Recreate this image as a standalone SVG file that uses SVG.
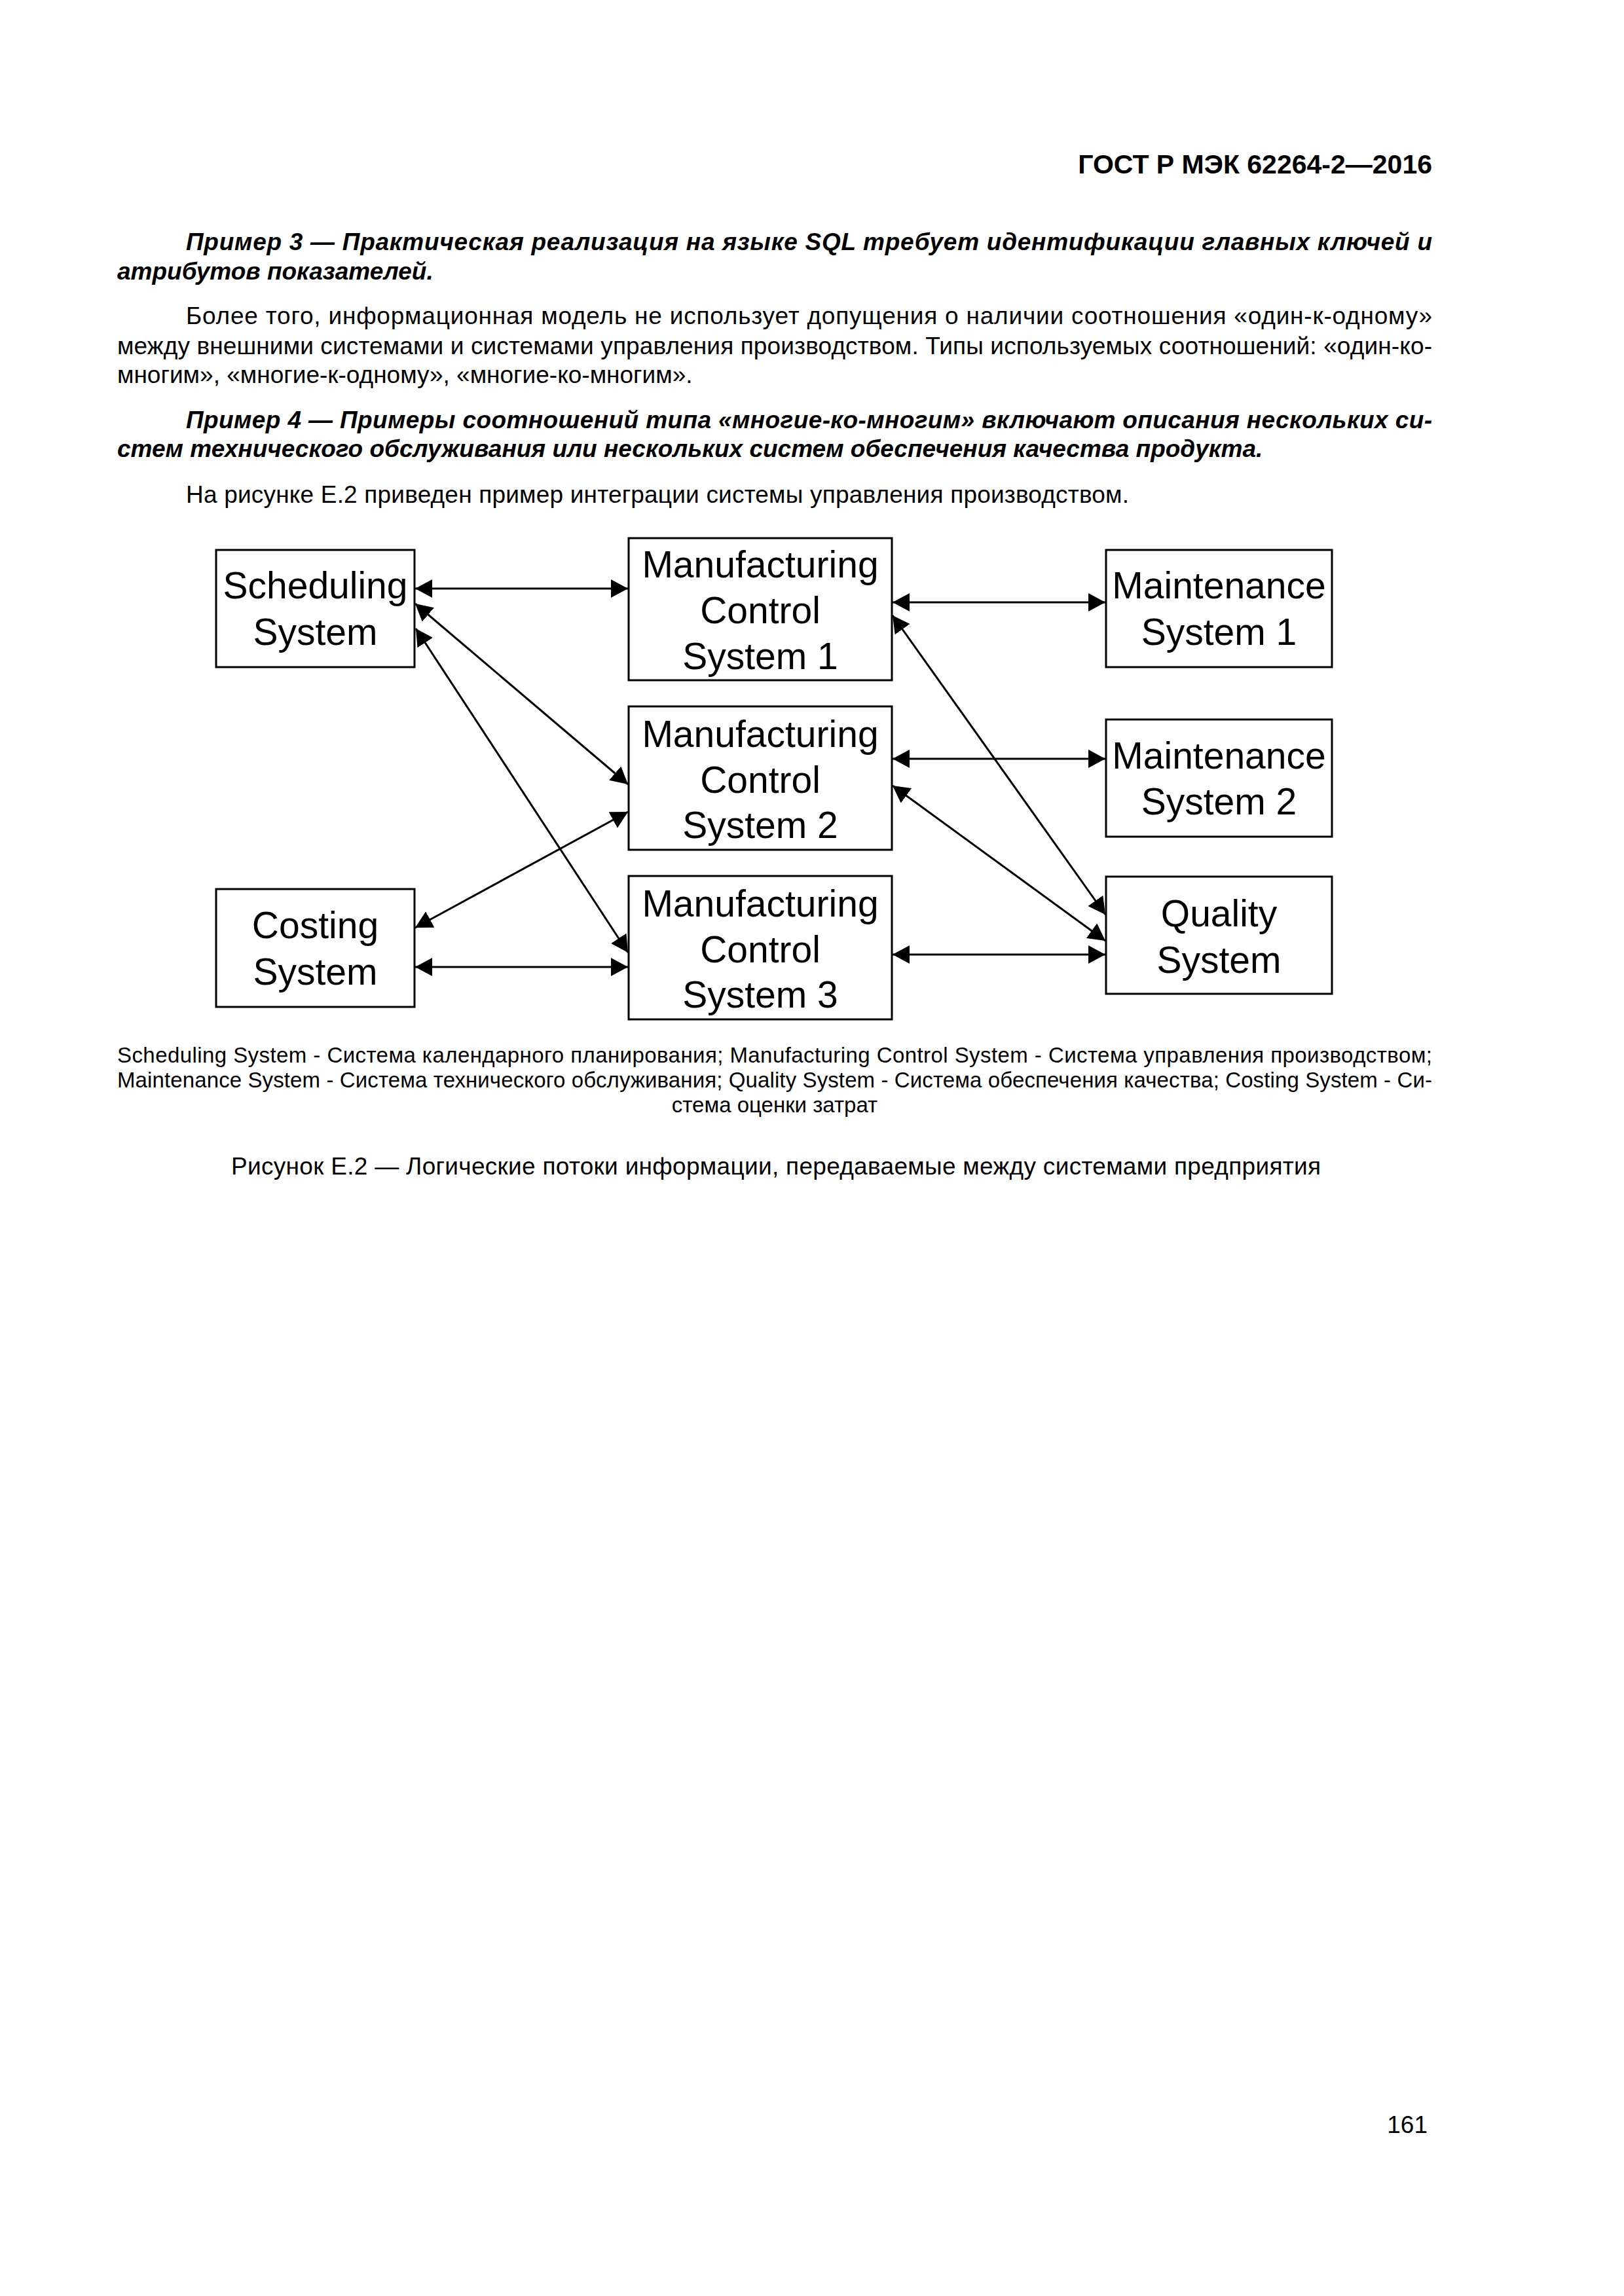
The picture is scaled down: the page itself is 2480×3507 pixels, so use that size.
<svg xmlns="http://www.w3.org/2000/svg" width="2480" height="3507" viewBox="0 0 2480 3507">
<style>
.pg{font-family:"Liberation Sans",Arial,sans-serif;fill:#000}
.b{font-size:37px}
.bi{font-size:37px;font-weight:bold;font-style:italic}
.hd{font-size:41px;font-weight:bold}
.cap{font-size:33px}
.box{fill:#fff;stroke:#000;stroke-width:3}
.lbl{font-family:"Liberation Sans",Arial,sans-serif;font-size:57px;text-anchor:middle;fill:#000}
.con{stroke:#000;stroke-width:3;fill:none;marker-start:url(#ah);marker-end:url(#ah)}
</style>
<defs>
<marker id="ah" viewBox="0 0 26 28" markerWidth="26" markerHeight="28" markerUnits="userSpaceOnUse" refX="26" refY="14" orient="auto-start-reverse">
<path d="M0,0 L26,14 L0,28 z" fill="#000"/>
</marker>
</defs>
<rect width="2480" height="3507" fill="#fff"/>
<g id="page-text" class="pg">
<text class="hd" x="2187" y="265" text-anchor="end">ГОСТ Р МЭК 62264-2—2016</text>
<text class="bi" x="284" y="382" textLength="1903" lengthAdjust="spacing">Пример 3 — Практическая реализация на языке SQL требует идентификации главных ключей и</text>
<text class="bi" x="179" y="427">атрибутов показателей.</text>
<text class="b" x="284" y="495" textLength="1903" lengthAdjust="spacing">Более того, информационная модель не использует допущения о наличии соотношения «один-к-одному»</text>
<text class="b" x="179" y="541" textLength="2008" lengthAdjust="spacing">между внешними системами и системами управления производством. Типы используемых соотношений: «один-ко-</text>
<text class="b" x="179" y="585">многим», «многие-к-одному», «многие-ко-многим».</text>
<text class="bi" x="284" y="654" textLength="1903" lengthAdjust="spacing">Пример 4 — Примеры соотношений типа «многие-ко-многим» включают описания нескольких си-</text>
<text class="bi" x="179" y="698">стем технического обслуживания или нескольких систем обеспечения качества продукта.</text>
<text class="b" x="284" y="768" textLength="1440" lengthAdjust="spacing">На рисунке Е.2 приведен пример интеграции системы управления производством.</text>
<text class="cap" x="179" y="1623" textLength="2008" lengthAdjust="spacing">Scheduling System - Система календарного планирования; Manufacturing Control System - Система управления производством;</text>
<text class="cap" x="179" y="1661" textLength="2008" lengthAdjust="spacing">Maintenance System - Система технического обслуживания; Quality System - Система обеспечения качества; Costing System - Си-</text>
<text class="cap" x="1183" y="1699" text-anchor="middle">стема оценки затрат</text>
<text class="b" x="353" y="1794" textLength="1664" lengthAdjust="spacing">Рисунок Е.2 — Логические потоки информации, передаваемые между системами предприятия</text>
<text class="b" x="2180" y="3258" text-anchor="end">161</text>
</g>
<g id="connectors">
<line class="con" x1="634" y1="899" x2="959" y2="899"/>
<line class="con" x1="1363" y1="920" x2="1688" y2="920"/>
<line class="con" x1="1363" y1="1159" x2="1688" y2="1159"/>
<line class="con" x1="634" y1="1477" x2="959" y2="1477"/>
<line class="con" x1="1363" y1="1458" x2="1688" y2="1458"/>
<line class="con" x1="634" y1="922" x2="959" y2="1198"/>
<line class="con" x1="635" y1="960" x2="959" y2="1455"/>
<line class="con" x1="634" y1="1417" x2="959" y2="1240"/>
<line class="con" x1="1363" y1="940" x2="1688" y2="1397"/>
<line class="con" x1="1363" y1="1200" x2="1688" y2="1437"/>
</g>
<g id="scheduling">
<rect class="box" x="330" y="840" width="303" height="179"/>
<text class="lbl" x="481.5" y="914">Scheduling</text>
<text class="lbl" x="481.5" y="985">System</text>
</g>
<g id="mcs1">
<rect class="box" x="960" y="822" width="402" height="217"/>
<text class="lbl" x="1161" y="882">Manufacturing</text>
<text class="lbl" x="1161" y="952">Control</text>
<text class="lbl" x="1161" y="1022">System 1</text>
</g>
<g id="maint1">
<rect class="box" x="1689" y="840" width="345" height="179"/>
<text class="lbl" x="1861.5" y="914">Maintenance</text>
<text class="lbl" x="1861.5" y="985">System 1</text>
</g>
<g id="mcs2">
<rect class="box" x="960" y="1079" width="402" height="219"/>
<text class="lbl" x="1161" y="1141">Manufacturing</text>
<text class="lbl" x="1161" y="1211">Control</text>
<text class="lbl" x="1161" y="1280">System 2</text>
</g>
<g id="maint2">
<rect class="box" x="1689" y="1099" width="345" height="179"/>
<text class="lbl" x="1861.5" y="1174">Maintenance</text>
<text class="lbl" x="1861.5" y="1244">System 2</text>
</g>
<g id="costing">
<rect class="box" x="330" y="1358" width="303" height="180"/>
<text class="lbl" x="481.5" y="1433">Costing</text>
<text class="lbl" x="481.5" y="1504">System</text>
</g>
<g id="mcs3">
<rect class="box" x="960" y="1338" width="402" height="219"/>
<text class="lbl" x="1161" y="1400">Manufacturing</text>
<text class="lbl" x="1161" y="1470">Control</text>
<text class="lbl" x="1161" y="1539">System 3</text>
</g>
<g id="quality">
<rect class="box" x="1689" y="1339" width="345" height="179"/>
<text class="lbl" x="1861.5" y="1415">Quality</text>
<text class="lbl" x="1861.5" y="1486">System</text>
</g>
</svg>
